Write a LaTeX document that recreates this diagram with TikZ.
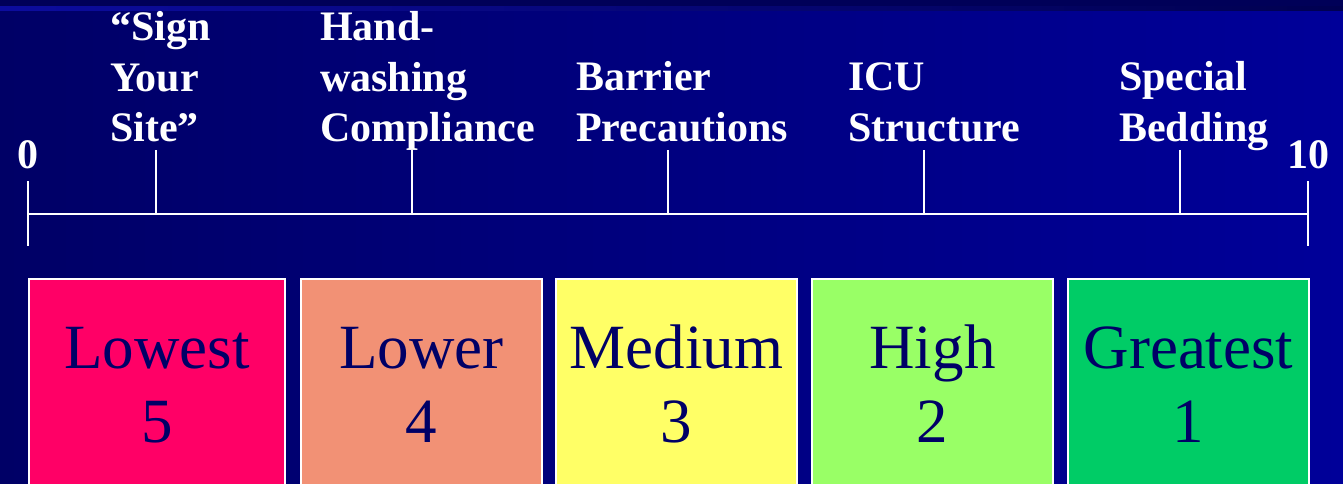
\documentclass[tikz,border=0pt]{standalone}
\usepackage{fontspec}
\setmainfont{Liberation Serif}
\begin{document}
\begin{tikzpicture}[x=1pt,y=-1pt,
  toplabel/.style={text=white,font=\bfseries\fontsize{42}{50.5}\selectfont,
    align=left,anchor=base west,inner sep=0pt},
  endlabel/.style={text=white,font=\bfseries\fontsize{42}{50}\selectfont,
    anchor=base,inner sep=0pt},
  axisline/.style={draw=white,line width=2pt},
  levelbox/.style={draw=white,line width=2pt,anchor=north west,inner sep=0pt,
    minimum height=240pt},
  levellabel/.style={text=textnavy,font=\fontsize{63}{74}\selectfont,
    align=center,anchor=base,inner sep=0pt}]
\definecolor{bgleft}{RGB}{0,0,102}
\definecolor{bgright}{RGB}{0,0,153}
\definecolor{textnavy}{RGB}{0,0,102}
\definecolor{lowest}{RGB}{255,0,102}
\definecolor{lower}{RGB}{242,145,117}
\definecolor{medium}{RGB}{255,255,102}
\definecolor{high}{RGB}{153,255,102}
\definecolor{greatest}{RGB}{0,204,102}

\useasboundingbox (0,0) rectangle (1343,484);
% background and title strip
\shade[left color=bgleft,right color=bgright] (0,0) rectangle (1343,484);
\fill[color={rgb,255:red,0;green,0;blue,88}] (0,0) rectangle (1343,7);
\shade[left color={rgb,255:red,12;green,12;blue,158},right color={rgb,255:red,0;green,0;blue,80}]
  (0,7) rectangle (1343,11);

% scale axis
\coordinate (a0) at (28,214);
\coordinate (a10) at (1308,214);
\coordinate (a0top) at (28,181);
\coordinate (a0bot) at (28,246);
\coordinate (a10top) at (1308,181);
\coordinate (a10bot) at (1308,246);
\draw[axisline] (a0) -- (a10);
\draw[axisline] (a0top) -- (a0bot);
\draw[axisline] (a10top) -- (a10bot);
\foreach \i/\x in {1/156,2/412,3/668,4/924,5/1180}{
  \coordinate (t\i) at (\x,150);
  \coordinate (b\i) at (\x,214);
  \draw[axisline] (t\i) -- (b\i);
}

\node[endlabel] (zero) at (28,168) {0};
\node[endlabel] (ten) at (1308,168) {10};

% interventions (anchored at the baseline of the last line)
\node[toplabel] (sign) at (110,142) {``Sign\\Your\\Site''};
\node[toplabel] (hand) at (320,142) {Hand-\\washing\\Compliance};
\node[toplabel] (barrier) at (576,141) {Barrier\\Precautions};
\node[toplabel] (icu) at (848,141) {ICU\\Structure};
\node[toplabel] (bedding) at (1119,141) {Special\\Bedding};

% strength levels
\node[levelbox,fill=lowest,minimum width=256pt] (box1) at (28,278) {};
\node[levelbox,fill=lower,minimum width=241pt] (box2) at (300,278) {};
\node[levelbox,fill=medium,minimum width=241pt] (box3) at (555,278) {};
\node[levelbox,fill=high,minimum width=241pt] (box4) at (811,278) {};
\node[levelbox,fill=greatest,minimum width=241pt] (box5) at (1067,278) {};

\node[levellabel] (l1) at ([yshift=-164pt]box1.north) {Lowest\\5};
\node[levellabel] (l2) at ([yshift=-164pt]box2.north) {Lower\\4};
\node[levellabel] (l3) at ([yshift=-164pt]box3.north) {Medium\\3};
\node[levellabel] (l4) at ([yshift=-164pt]box4.north) {High\\2};
\node[levellabel] (l5) at ([yshift=-164pt]box5.north) {Greatest\\1};
\end{tikzpicture}
\end{document}
